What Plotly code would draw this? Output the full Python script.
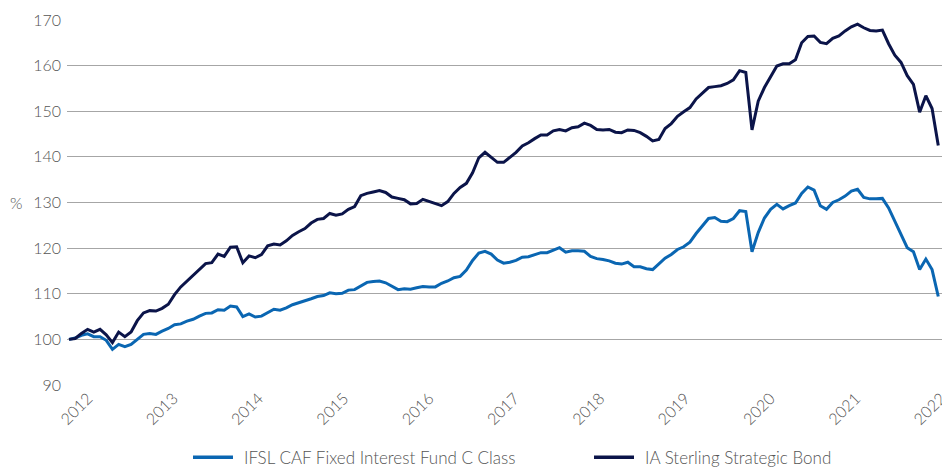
import plotly.graph_objects as go

# Values (rebased to 100), one per monthly step
ifsl_caf = [
    100.0, 100.3, 100.9, 101.2, 100.6, 100.6, 99.8, 97.8, 98.9, 98.4,
    98.9, 100.1, 101.1, 101.3, 101.1, 101.8, 102.4, 103.2, 103.4, 104.0,
    104.4, 105.1, 105.7, 105.8, 106.5, 106.4, 107.3, 107.1, 105.0, 105.6,
    104.9, 105.1, 105.9, 106.6, 106.4, 106.9, 107.6, 108.0, 108.4, 108.9,
    109.4, 109.6, 110.2, 110.0, 110.1, 110.8, 110.9, 111.7, 112.5, 112.7,
    112.8, 112.4, 111.6, 110.9, 111.1, 111.0, 111.3, 111.6, 111.5, 111.5,
    112.3, 112.8, 113.5, 113.8, 115.2, 117.3, 118.9, 119.3, 118.7, 117.4,
    116.7, 116.9, 117.3, 118.0, 118.1, 118.6, 119.0, 119.0, 119.6, 120.1,
    119.1, 119.4, 119.4, 119.3, 118.2, 117.7, 117.5, 117.2, 116.7, 116.5,
    116.9, 115.9, 115.9, 115.5, 115.3, 116.6, 117.8, 118.6, 119.7, 120.3,
    121.3, 123.2, 124.9, 126.5, 126.7, 125.9, 125.8, 126.5, 128.2, 128.0,
    119.2, 123.4, 126.6, 128.5, 129.6, 128.6, 129.3, 129.9, 132.0, 133.4,
    132.7, 129.3, 128.5, 130.0, 130.6, 131.4, 132.5, 132.9, 131.1, 130.8,
    130.8, 130.9, 128.8, 125.9, 123.2, 120.1, 119.2, 115.3, 117.6, 115.3,
    109.4,
]

ia_strategic = [
    100.0, 100.2, 101.3, 102.2, 101.6, 102.2, 101.0, 99.3, 101.6, 100.6,
    101.6, 104.1, 105.8, 106.3, 106.2, 106.8, 107.7, 109.8, 111.5, 112.8,
    114.1, 115.4, 116.6, 116.8, 118.7, 118.2, 120.2, 120.3, 116.8, 118.3,
    117.9, 118.6, 120.5, 120.9, 120.7, 121.6, 122.8, 123.6, 124.3, 125.5,
    126.3, 126.5, 127.6, 127.2, 127.5, 128.5, 129.1, 131.5, 132.0, 132.3,
    132.6, 132.2, 131.2, 130.9, 130.6, 129.7, 129.8, 130.7, 130.2, 129.7,
    129.3, 130.2, 132.0, 133.3, 134.2, 136.5, 139.8, 141.0, 140.0, 138.8,
    138.8, 139.9, 141.0, 142.4, 143.1, 144.0, 144.8, 144.8, 145.7, 146.0,
    145.7, 146.4, 146.6, 147.4, 146.9, 146.0, 145.9, 146.0, 145.4, 145.3,
    145.9, 145.8, 145.3, 144.5, 143.5, 143.8, 146.2, 147.3, 148.9, 149.9,
    150.8, 152.7, 154.0, 155.2, 155.4, 155.6, 156.1, 156.9, 158.9, 158.5,
    145.9, 152.2, 155.2, 157.6, 159.9, 160.4, 160.4, 161.3, 165.0, 166.4,
    166.5, 165.1, 164.8, 166.0, 166.5, 167.6, 168.5, 169.1, 168.3, 167.7,
    167.6, 167.8, 164.8, 162.3, 160.7, 157.8, 155.9, 149.8, 153.4, 150.6,
    142.5,
]

series_names = ["IFSL CAF Fixed Interest Fund C Class", "IA Sterling Strategic Bond"]
series_colors = ["#0a66b2", "#0b1449"]
year_labels = ["2012", "2013", "2014", "2015", "2016", "2017",
               "2018", "2019", "2020", "2021", "2022"]
y_ticks = [90, 100, 110, 120, 130, 140, 150, 160, 170]

steps = list(range(len(ifsl_caf)))
# category-style labels spread evenly along the axis, as in the reference
label_start, label_step = 3.06, 13.74
label_pos = [label_start + k * label_step for k in range(len(year_labels))]

FONT = "Lato"
GREY = "#555555"

fig = go.Figure()
for name, vals, col in zip(series_names, [ifsl_caf, ia_strategic], series_colors):
    fig.add_trace(go.Scatter(x=steps, y=vals, mode="lines", name=name,
                             line=dict(color=col, width=3), showlegend=False))

# custom legend placed below the plot (paper coordinates)
legend_x = [0.144, 0.6023]
legend_y = -0.198
shapes = []
annotations = []
for lx, name, col in zip(legend_x, series_names, series_colors):
    shapes.append(dict(type="line", xref="paper", yref="paper",
                       x0=lx, x1=lx + 0.0457, y0=legend_y, y1=legend_y,
                       line=dict(color=col, width=3.5)))
    annotations.append(dict(text=name, xref="paper", yref="paper",
                            x=lx + 0.0457 + 0.011, y=legend_y,
                            xanchor="left", yanchor="middle", showarrow=False,
                            borderpad=0,
                            font=dict(family=FONT, size=17, color=GREY, weight=300)))

annotations.append(dict(text="%", xref="paper", yref="paper", x=-0.058, y=0.5,
                        xanchor="center", yanchor="middle", showarrow=False,
                        font=dict(family=FONT, size=16, color=GREY, weight=300)))

fig.update_layout(
    width=942, height=460,
    margin=dict(l=59, r=8, t=12, b=83, autoexpand=False),
    paper_bgcolor="white", plot_bgcolor="white",
    font=dict(family=FONT, size=16, color=GREY),
    showlegend=False,
    xaxis=dict(range=[-0.32, 140.6], tickmode="array", tickvals=label_pos,
               ticktext=year_labels, tickangle=-45, showgrid=False, zeroline=False,
               showline=False, ticks="", automargin=False,
               tickfont=dict(family=FONT, size=16, color=GREY, weight=300)),
    yaxis=dict(range=[90, 170], tickmode="array", tickvals=y_ticks,
               showgrid=True, gridcolor="#a6a6a6", gridwidth=1, zeroline=False,
               showline=False, ticks="", ticklabelstandoff=5, automargin=False,
               tickfont=dict(family=FONT, size=16, color=GREY, weight=300)),
    shapes=shapes,
    annotations=annotations,
)

fig.write_html("out.html")
